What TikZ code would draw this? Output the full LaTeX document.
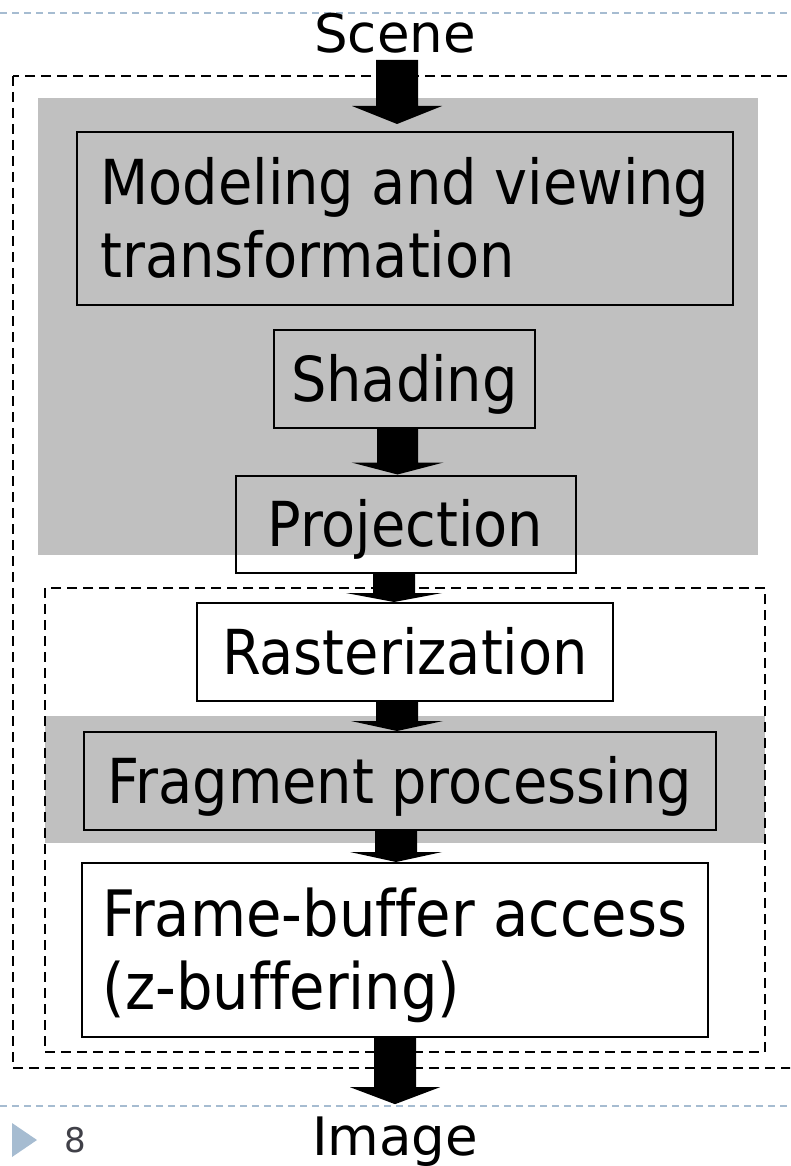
\documentclass[tikz,border=0pt]{standalone}
\usepackage{fontspec}
\setmainfont{DejaVu Sans Condensed}[Ligatures=NoCommon]
\newfontfamily\titlefont{DejaVu Sans}
\usetikzlibrary{calc}
\definecolor{regiongrey}{RGB}{192,192,192}
\definecolor{rulerblue}{RGB}{166,188,209}
\definecolor{pagenum}{RGB}{64,64,72}
\newcommand{\fatarrow}[5]{%
  \fill[black] ($(#1)+(-#3,0)$) -- ($(#2)+(-#3,-#5)$) -- ($(#2)+(-#4,-#5)$) -- (#2)
    -- ($(#2)+(#4,-#5)$) -- ($(#2)+(#3,-#5)$) -- ($(#1)+(#3,0)$) -- cycle;}
\begin{document}
\begin{tikzpicture}[x=1pt,y=-1pt,
  boxline/.style={draw=black, line width=2pt, inner sep=0pt},
  onebox/.style={boxline, font=\fontsize{62}{73}\selectfont, text height=45.2pt, text depth=0pt},
  twobox/.style={boxline, font=\fontsize{62}{73}\selectfont, align=left, text height=118.2pt, text depth=0pt},
  region/.style={fill=regiongrey},
  groupline/.style={draw=black, line width=2pt, dash pattern=on 10pt off 6pt},
  ruler/.style={draw=rulerblue, line width=2pt, dash pattern=on 7pt off 5pt},
  titletext/.style={font=\titlefont\fontsize{53}{60}\selectfont, inner xsep=0pt}]
\useasboundingbox (0,0) rectangle (790,1166);
\clip (0,0) rectangle (790,1166);
% rulers
\draw[ruler] (0,13) -- (790,13);
\draw[ruler] (0,1106) -- (790,1106);
% grey regions
\fill[region] (38,98) rectangle (758,555);
\fill[region] (45,716) rectangle (765,843);
% group outlines
\draw[groupline] (13,76) rectangle (800,1068);
\draw[groupline] (45,588) rectangle (765,1052);
% boxes
\node[twobox, minimum width=656pt, minimum height=173pt] (model) at (405,218.5) {Modeling and viewing\\transformation};
\node[onebox, minimum width=261pt, minimum height=98pt] (shading) at (404.5,379) {Shading};
\node[onebox, minimum width=340pt, minimum height=97pt] (projection) at (405.5,524) {Projection};
\node[onebox, minimum width=416pt, minimum height=98pt] (raster) at (405,652) {Rasterization};
\node[onebox, minimum width=632pt, minimum height=98pt] (fragment) at (400,781) {Fragment processing};
\node[twobox, minimum width=626pt, minimum height=174pt, font=\fontsize{64}{73}\selectfont] (frame) at (395,950) {Frame-buffer access\\(z-buffering)};
% titles
\node[titletext, anchor=base, inner ysep=6pt] (scene) at (395,53) {Scene};
\node[titletext, anchor=base, inner ysep=12pt] (image) at (395,1155) {Image};
% page marker
\fill[rulerblue] (12,1123) -- (37,1140) -- (12,1157) -- cycle;
\node[font=\titlefont\fontsize{34}{40}\selectfont, text=pagenum] (pnum) at (75,1140) {8};
% arrows
\coordinate (a1s) at (397,0 |- scene.south);
\coordinate (a1e) at ($(397,0 |- model.north)+(0,-7)$);
\coordinate (a2s) at (397.5,0 |- shading.south);
\coordinate (a2e) at (397.5,0 |- projection.north);
\coordinate (a3s) at (394,0 |- projection.south);
\coordinate (a3e) at (394,0 |- raster.north);
\coordinate (a4s) at (397,0 |- raster.south);
\coordinate (a4e) at (397,0 |- fragment.north);
\coordinate (a5s) at (396,0 |- fragment.south);
\coordinate (a5e) at (396,0 |- frame.north);
\coordinate (a6s) at (395,0 |- frame.south);
\coordinate (a6e) at (395,0 |- image.north);
\fatarrow{a1s}{a1e}{21}{45}{18}
\fatarrow{a2s}{a2e}{20.5}{46}{12}
\fatarrow{a3s}{a3e}{21}{48}{9}
\fatarrow{a4s}{a4e}{21}{46}{10}
\fatarrow{a5s}{a5e}{21}{46}{10}
\fatarrow{a6s}{a6e}{21}{45}{17}
\end{tikzpicture}
\end{document}
